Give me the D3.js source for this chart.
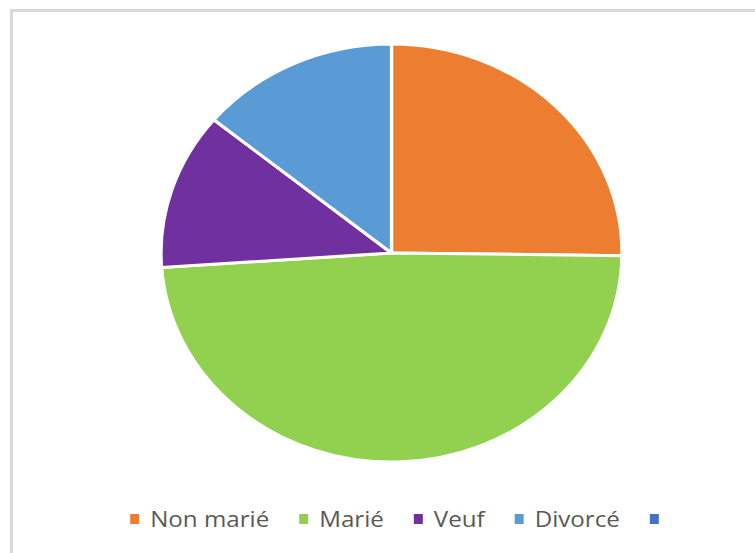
<!DOCTYPE html>
<html>
<head>
<meta charset="utf-8">
<script src="https://cdn.jsdelivr.net/npm/d3@7"></script>
<style>
  body { margin: 0; background: #fff; }
  svg { display: block; }
</style>
</head>
<body>
<div id="chart"></div>
<script>
// statut matrimonial (parts, en %)
var categories = ["Non marié", "Marié", "Veuf", "Divorcé", ""];
var values = [25.2, 48.7, 12.1, 14.0, 0];
var colors = ["#ED7D31", "#92D050", "#7030A0", "#5B9BD5", "#4472C4"];

var width = 755, height = 553;
var cx = 391.5, cy = 253;
var rx = 230.5, ry = 209;   // pie is a bit stretched sideways
var textStretch = 1.15;

var svg = d3.select("#chart").append("svg")
  .attr("width", width)
  .attr("height", height);

// chart frame
svg.append("rect")
  .attr("x", 11.5).attr("y", 10.5)
  .attr("width", 760).attr("height", 560)
  .attr("fill", "none")
  .attr("stroke", "#d9d9d9")
  .attr("stroke-width", 3);

var data = categories.map(function(c, i) {
  return { name: c, value: values[i], color: colors[i] };
});

var pie = d3.pie()
  .sort(null)
  .value(function(d) { return d.value; });

var arc = d3.arc()
  .innerRadius(0)
  .outerRadius(ry);

var g = svg.append("g")
  .attr("transform", "translate(" + cx + "," + cy + ") scale(" + (rx / ry) + ",1)");

g.selectAll("path")
  .data(pie(data.filter(function(d) { return d.value > 0; })))
  .enter()
  .append("path")
  .attr("d", arc)
  .attr("fill", function(d) { return d.data.color; })
  .attr("stroke", "#fff")
  .attr("stroke-width", 3)
  .attr("stroke-linejoin", "round");

// legend
var legend = svg.append("g");
var x = 0;
data.forEach(function(d) {
  var item = legend.append("g").attr("transform", "translate(" + x + ",0)");
  item.append("rect")
    .attr("x", 0).attr("y", -13)
    .attr("width", 9).attr("height", 10)
    .attr("fill", d.color);
  var t = item.append("g")
    .attr("transform", "translate(20,0) scale(" + textStretch + ",1)")
    .append("text")
    .attr("font-family", "'Open Sans', sans-serif")
    .attr("font-size", 21)
    .attr("fill", "#595959")
    .text(d.name);
  var w = d.name ? t.node().getComputedTextLength() * textStretch : 0;
  x += 20 + w + 30;
});
var total = x - 30 - 20 + 9;
legend.attr("transform", "translate(" + (394.5 - total / 2) + ",527)");
</script>
</body>
</html>
